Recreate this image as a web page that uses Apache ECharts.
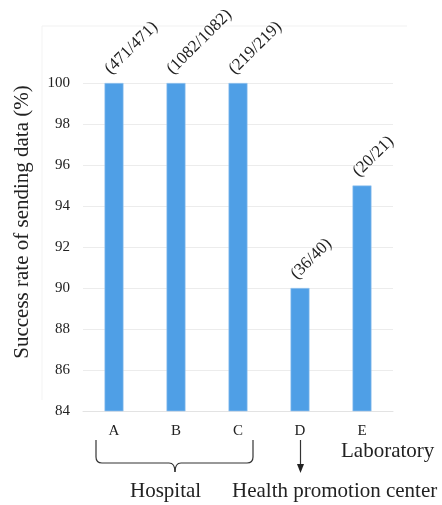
<!DOCTYPE html>
<html>
<head>
<meta charset="utf-8">
<script src="https://cdn.jsdelivr.net/npm/echarts@6/dist/echarts.min.js"></script>
<style>
  html, body { margin: 0; padding: 0; background: #fff; }
  #chart { width: 442px; height: 505px; }
</style>
</head>
<body>
<div id="chart"></div>
<script>
// Sites that sent data, grouped by facility type
const categories = ['A', 'B', 'C', 'D', 'E'];
const successRate = [100, 100, 100, 90, 95];
const sentCounts = ['(471/471)', '(1082/1082)', '(219/219)', '(36/40)', '(20/21)'];
const yTicks = { min: 84, max: 100, interval: 2 };

const FONT = '"Liberation Serif", "Times New Roman", serif';
const TEXT = '#222';
const INK = { stroke: '#333', lineWidth: 1.2, fill: null };

function seg(x1, y1, x2, y2) {
  return { type: 'line', shape: { x1, y1, x2, y2 }, style: INK };
}
function curve(x1, y1, cx, cy, x2, y2) {
  return { type: 'bezierCurve', shape: { x1, y1, cpx1: cx, cpy1: cy, x2, y2 }, style: INK };
}

const chart = echarts.init(document.getElementById('chart'), null, { renderer: 'canvas' });

chart.setOption({
  animation: false,
  grid: { left: 83, right: 49, top: 83, bottom: 94 },
  xAxis: {
    type: 'category',
    data: categories,
    axisLine: { lineStyle: { color: '#e3e3e3', width: 1 } },
    axisTick: { show: false },
    axisLabel: { color: TEXT, fontFamily: FONT, fontSize: 15, margin: 13 }
  },
  yAxis: {
    type: 'value',
    min: yTicks.min,
    max: yTicks.max,
    interval: yTicks.interval,
    axisLine: { show: false },
    axisTick: { show: false },
    axisLabel: { color: TEXT, fontFamily: FONT, fontSize: 15, margin: 13 },
    splitLine: { lineStyle: { color: '#ececec', width: 1 } }
  },
  series: [{
    type: 'bar',
    data: successRate.map((v, i) => ({
      value: v,
      label: { formatter: sentCounts[i] }
    })),
    barWidth: 19,
    itemStyle: { color: '#4f9fe6', borderColor: '#9cc8f0', borderWidth: 0.6 },
    label: {
      show: true,
      position: 'top',
      rotate: 45,
      align: 'left',
      verticalAlign: 'bottom',
      distance: 5,
      offset: [0, -0.5],
      color: TEXT,
      fontFamily: FONT,
      fontSize: 17
    }
  }],
  graphic: [
    // faint outline of the plot frame
    { type: 'line', shape: { x1: 42, y1: 26, x2: 407, y2: 26 }, style: { stroke: '#f1f1f1', lineWidth: 1 } },
    { type: 'line', shape: { x1: 42, y1: 26, x2: 42, y2: 400 }, style: { stroke: '#f3f3f3', lineWidth: 1 } },
    // y axis title
    {
      type: 'text',
      x: 22, y: 222,
      rotation: Math.PI / 2,
      style: {
        text: 'Success rate of sending data (%)',
        fill: TEXT, font: '21px ' + FONT,
        align: 'center', verticalAlign: 'middle'
      }
    },
    // brace under hospitals A–C
    seg(96, 440, 96, 457),
    curve(96, 457, 96, 463, 102, 463),
    seg(102, 463, 169, 463),
    curve(169, 463, 175, 463, 175, 472),
    curve(175, 472, 175, 463, 181, 463),
    seg(181, 463, 247, 463),
    curve(247, 463, 253, 463, 253, 457),
    seg(253, 457, 253, 440),
    // arrow under D
    seg(300.5, 440, 300.5, 465),
    { type: 'polygon', shape: { points: [[297, 464], [304, 464], [300.5, 473]] }, style: { fill: '#222' } },
    {
      type: 'text', x: 341, y: 451,
      style: { text: 'Laboratory', fill: TEXT, font: '21px ' + FONT, align: 'left', verticalAlign: 'middle' }
    },
    {
      type: 'text', x: 130, y: 491,
      style: { text: 'Hospital', fill: TEXT, font: '21px ' + FONT, align: 'left', verticalAlign: 'middle' }
    },
    {
      type: 'text', x: 232, y: 491,
      style: { text: 'Health promotion center', fill: TEXT, font: '21px ' + FONT, align: 'left', verticalAlign: 'middle' }
    }
  ]
});
</script>
</body>
</html>
